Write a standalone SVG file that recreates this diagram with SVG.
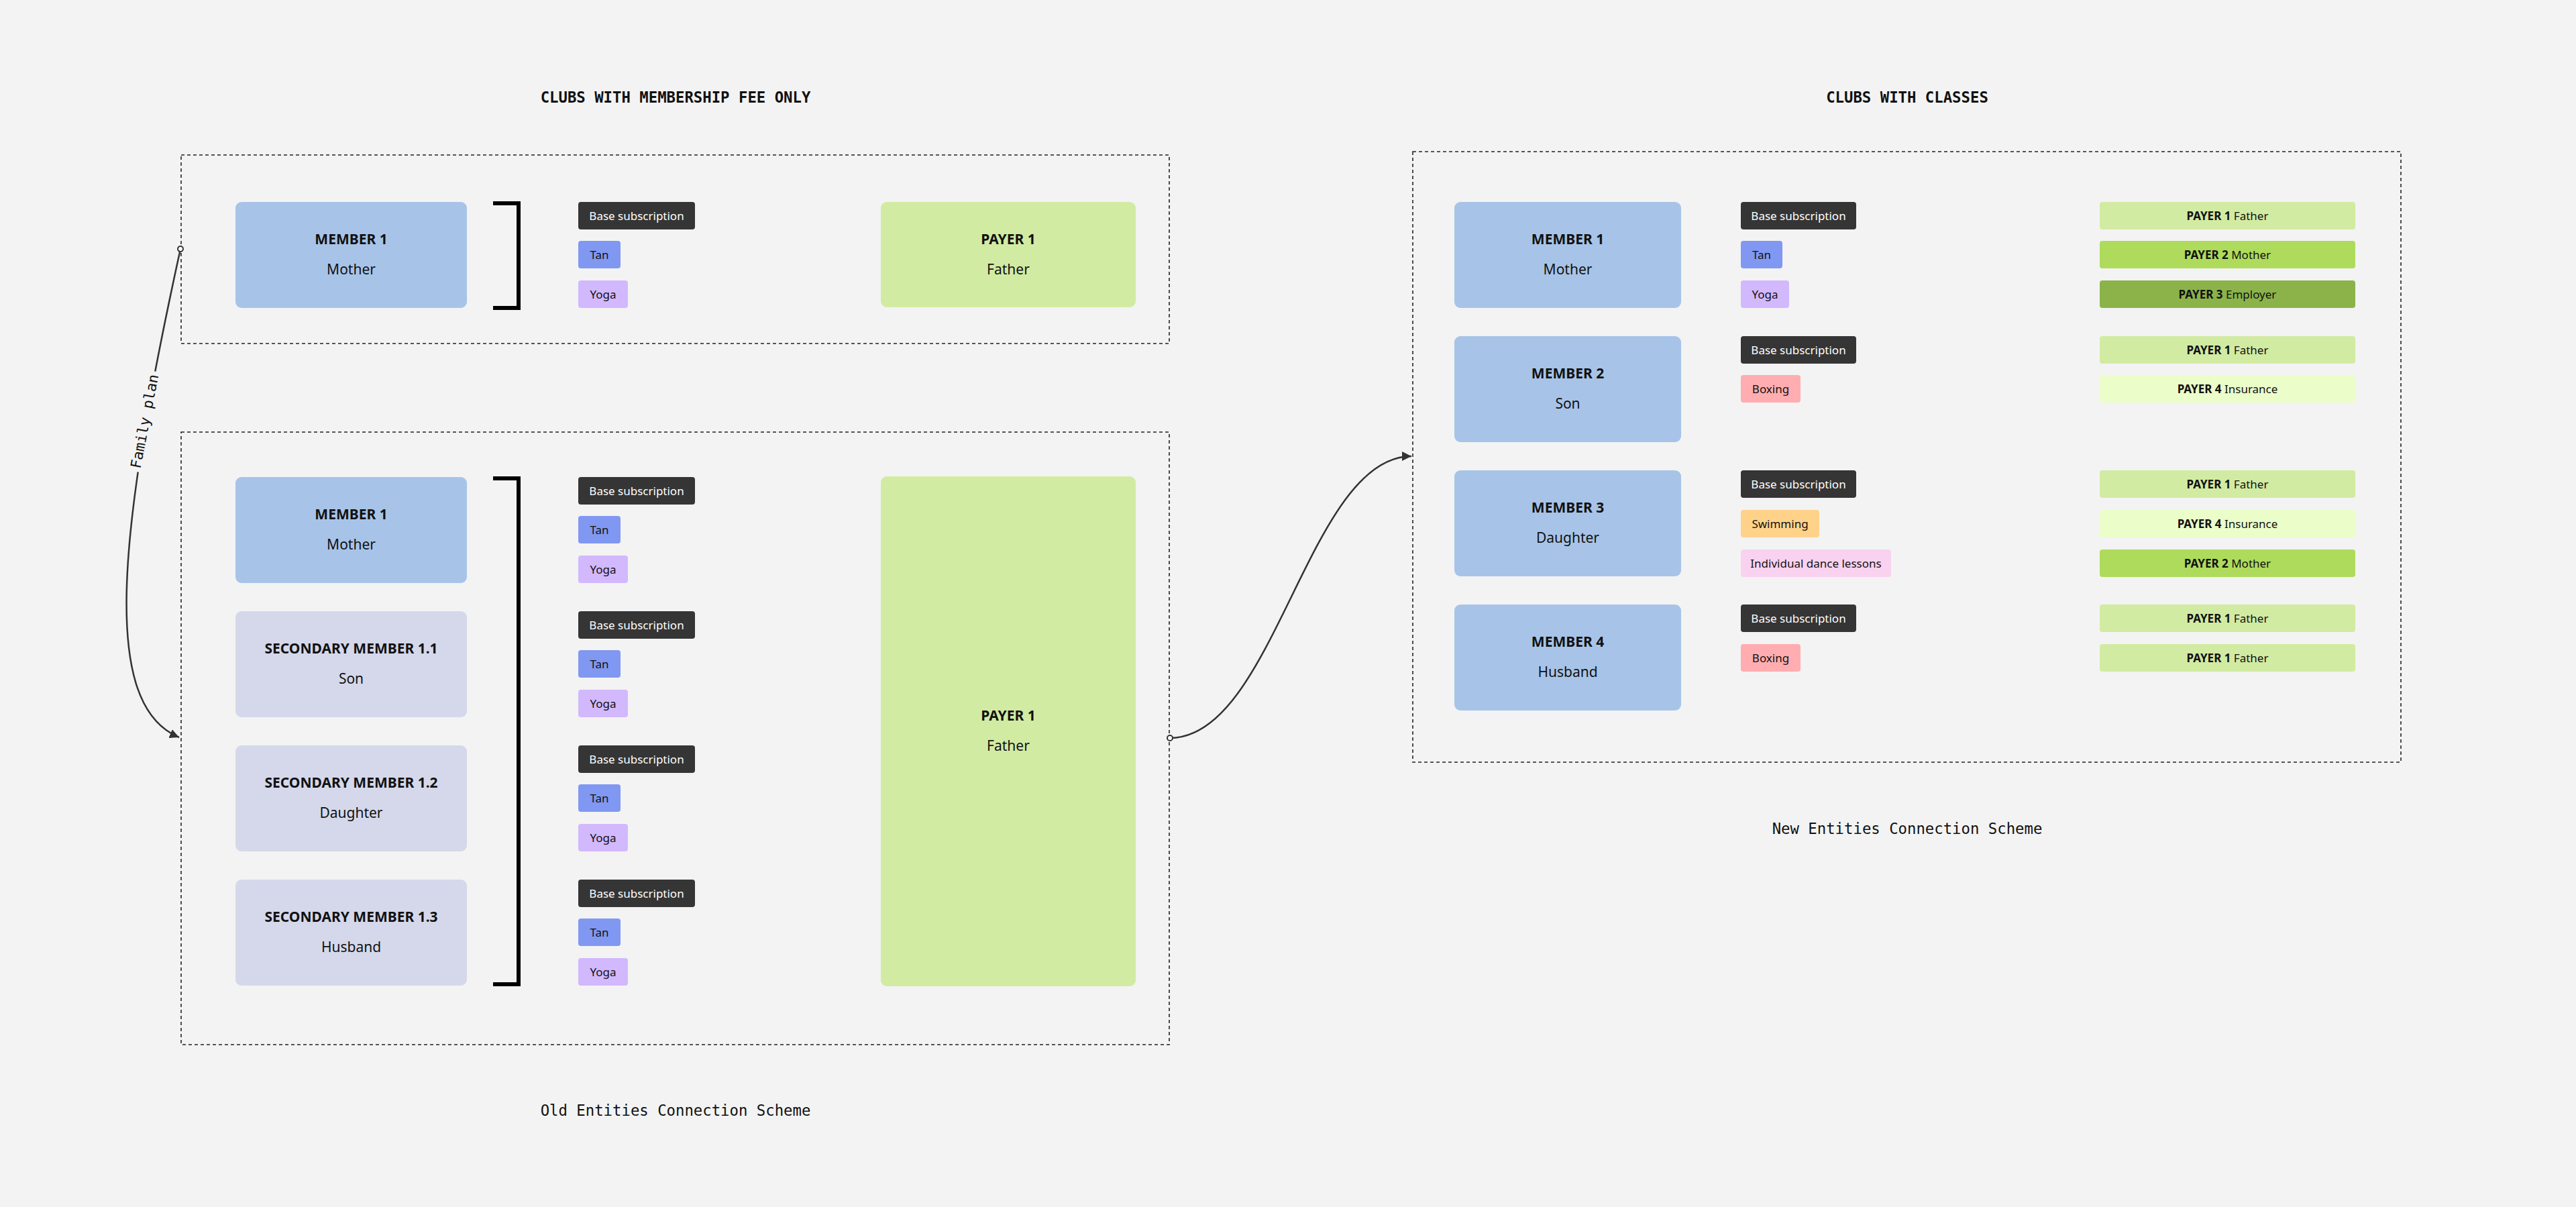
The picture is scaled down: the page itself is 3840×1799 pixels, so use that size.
<svg xmlns="http://www.w3.org/2000/svg" width="3840" height="1799" viewBox="0 0 3840 1799">
<defs>
<style>
.bg{fill:#f3f3f3}
.frame{fill:none;stroke:#222;stroke-width:1.6;stroke-dasharray:5 4}
.mem{fill:#a7c4e8}
.sec{fill:#d5d8eb}
.pay1{fill:#d2eba2}
.pay2{fill:#aedb5b}
.pay3{fill:#8bb34a}
.pay4{fill:#ebfdc9}
.base{fill:#353535}
.tan{fill:#8098f1}
.yoga{fill:#d2b8fd}
.boxing{fill:#ffadb0}
.swim{fill:#ffd28a}
.dance{fill:#f9d2ef}
.tb{font-family:"Noto Sans","DejaVu Sans",sans-serif;font-size:21px;font-weight:bold;fill:#111;text-anchor:middle}
.tr{font-family:"Noto Sans","DejaVu Sans",sans-serif;font-size:21px;fill:#111;text-anchor:middle}
.ct{font-family:"Noto Sans","DejaVu Sans",sans-serif;font-size:17px;fill:#111;text-anchor:middle}
.cw{fill:#fff}
.b{font-weight:bold}
.mono{font-family:"DejaVu Sans Mono","Liberation Mono",monospace;font-size:22.3px;fill:#111;text-anchor:middle}
.monob{font-weight:bold}
.brk{fill:none;stroke:#000;stroke-width:6;stroke-linejoin:miter}
.conn{fill:none;stroke:#333;stroke-width:2.5}
</style>
<marker id="arrow" markerUnits="userSpaceOnUse" markerWidth="16" markerHeight="16" refX="14" refY="7" orient="auto">
<path d="M0,0 L14,7 L0,14 z" fill="#333"/>
</marker>
<marker id="dot" markerUnits="userSpaceOnUse" markerWidth="12" markerHeight="12" refX="6" refY="6" orient="auto">
<circle cx="6" cy="6" r="4" fill="#fff" stroke="#333" stroke-width="2"/>
</marker>
</defs>
<rect class="bg" x="0" y="0" width="3840" height="1799"/>

<!-- Titles -->
<text class="mono monob" x="1007" y="153">CLUBS WITH MEMBERSHIP FEE ONLY</text>
<text class="mono monob" x="2843" y="153">CLUBS WITH CLASSES</text>
<text class="mono" x="1007" y="1663">Old Entities Connection Scheme</text>
<text class="mono" x="2843" y="1243">New Entities Connection Scheme</text>

<!-- Frames -->
<g id="frame-old-top"><rect class="frame" x="270" y="231" width="1473" height="281"/></g>
<g id="frame-old-bottom"><rect class="frame" x="270" y="644" width="1473" height="913"/></g>
<g id="frame-new"><rect class="frame" x="2106" y="226" width="1473" height="910"/></g>

<!-- Old: top group -->
<g id="old-member1">
<rect class="mem" x="351" y="301" width="345" height="158" rx="9"/>
<text class="tb" x="523.5" y="364">MEMBER 1</text>
<text class="tr" x="523.5" y="409">Mother</text>
</g>
<g id="old-bracket1"><path class="brk" d="M735,303 H773 V459 H735"/></g>
<g id="old-m1-base"><rect class="base" x="862" y="301" width="174" height="41" rx="4"/><text class="ct cw" x="949" y="328">Base subscription</text></g>
<g id="old-m1-tan"><rect class="tan" x="862" y="359" width="63" height="41" rx="4"/><text class="ct" x="893.5" y="386">Tan</text></g>
<g id="old-m1-yoga"><rect class="yoga" x="862" y="418" width="74" height="41" rx="4"/><text class="ct" x="899" y="445">Yoga</text></g>
<g id="old-payer1">
<rect class="pay1" x="1313" y="301" width="380" height="157" rx="9"/>
<text class="tb" x="1503" y="364">PAYER 1</text>
<text class="tr" x="1503" y="409">Father</text>
</g>

<!-- Old: bottom group -->
<g id="old-fam-member1">
<rect class="mem" x="351" y="711" width="345" height="158" rx="9"/>
<text class="tb" x="523.5" y="774">MEMBER 1</text>
<text class="tr" x="523.5" y="819">Mother</text>
</g>
<g id="old-sec11">
<rect class="sec" x="351" y="911" width="345" height="158" rx="9"/>
<text class="tb" x="523.5" y="974">SECONDARY MEMBER 1.1</text>
<text class="tr" x="523.5" y="1019">Son</text>
</g>
<g id="old-sec12">
<rect class="sec" x="351" y="1111" width="345" height="158" rx="9"/>
<text class="tb" x="523.5" y="1174">SECONDARY MEMBER 1.2</text>
<text class="tr" x="523.5" y="1219">Daughter</text>
</g>
<g id="old-sec13">
<rect class="sec" x="351" y="1311" width="345" height="158" rx="9"/>
<text class="tb" x="523.5" y="1374">SECONDARY MEMBER 1.3</text>
<text class="tr" x="523.5" y="1419">Husband</text>
</g>
<g id="old-bracket2"><path class="brk" d="M735,713 H773 V1467 H735"/></g>

<g id="old-f1-base"><rect class="base" x="862" y="711" width="174" height="41" rx="4"/><text class="ct cw" x="949" y="738">Base subscription</text></g>
<g id="old-f1-tan"><rect class="tan" x="862" y="769" width="63" height="41" rx="4"/><text class="ct" x="893.5" y="796">Tan</text></g>
<g id="old-f1-yoga"><rect class="yoga" x="862" y="828" width="74" height="41" rx="4"/><text class="ct" x="899" y="855">Yoga</text></g>

<g id="old-f2-base"><rect class="base" x="862" y="911" width="174" height="41" rx="4"/><text class="ct cw" x="949" y="938">Base subscription</text></g>
<g id="old-f2-tan"><rect class="tan" x="862" y="969" width="63" height="41" rx="4"/><text class="ct" x="893.5" y="996">Tan</text></g>
<g id="old-f2-yoga"><rect class="yoga" x="862" y="1028" width="74" height="41" rx="4"/><text class="ct" x="899" y="1055">Yoga</text></g>

<g id="old-f3-base"><rect class="base" x="862" y="1111" width="174" height="41" rx="4"/><text class="ct cw" x="949" y="1138">Base subscription</text></g>
<g id="old-f3-tan"><rect class="tan" x="862" y="1169" width="63" height="41" rx="4"/><text class="ct" x="893.5" y="1196">Tan</text></g>
<g id="old-f3-yoga"><rect class="yoga" x="862" y="1228" width="74" height="41" rx="4"/><text class="ct" x="899" y="1255">Yoga</text></g>

<g id="old-f4-base"><rect class="base" x="862" y="1311" width="174" height="41" rx="4"/><text class="ct cw" x="949" y="1338">Base subscription</text></g>
<g id="old-f4-tan"><rect class="tan" x="862" y="1369" width="63" height="41" rx="4"/><text class="ct" x="893.5" y="1396">Tan</text></g>
<g id="old-f4-yoga"><rect class="yoga" x="862" y="1428" width="74" height="41" rx="4"/><text class="ct" x="899" y="1455">Yoga</text></g>

<g id="old-fam-payer1">
<rect class="pay1" x="1313" y="710" width="380" height="760" rx="9"/>
<text class="tb" x="1503" y="1074">PAYER 1</text>
<text class="tr" x="1503" y="1119">Father</text>
</g>

<!-- New scheme -->
<g id="new-member1">
<rect class="mem" x="2168" y="301" width="338" height="158" rx="9"/>
<text class="tb" x="2337" y="364">MEMBER 1</text>
<text class="tr" x="2337" y="409">Mother</text>
</g>
<g id="new-member2">
<rect class="mem" x="2168" y="501" width="338" height="158" rx="9"/>
<text class="tb" x="2337" y="564">MEMBER 2</text>
<text class="tr" x="2337" y="609">Son</text>
</g>
<g id="new-member3">
<rect class="mem" x="2168" y="701" width="338" height="158" rx="9"/>
<text class="tb" x="2337" y="764">MEMBER 3</text>
<text class="tr" x="2337" y="809">Daughter</text>
</g>
<g id="new-member4">
<rect class="mem" x="2168" y="901" width="338" height="158" rx="9"/>
<text class="tb" x="2337" y="964">MEMBER 4</text>
<text class="tr" x="2337" y="1009">Husband</text>
</g>

<g id="new-m1-base"><rect class="base" x="2595" y="301" width="172" height="41" rx="4"/><text class="ct cw" x="2681" y="328">Base subscription</text></g>
<g id="new-m1-tan"><rect class="tan" x="2595" y="359" width="62" height="41" rx="4"/><text class="ct" x="2626" y="386">Tan</text></g>
<g id="new-m1-yoga"><rect class="yoga" x="2595" y="418" width="72" height="41" rx="4"/><text class="ct" x="2631" y="445">Yoga</text></g>

<g id="new-m2-base"><rect class="base" x="2595" y="501" width="172" height="41" rx="4"/><text class="ct cw" x="2681" y="528">Base subscription</text></g>
<g id="new-m2-boxing"><rect class="boxing" x="2595" y="559" width="89" height="41" rx="4"/><text class="ct" x="2639.5" y="586">Boxing</text></g>

<g id="new-m3-base"><rect class="base" x="2595" y="701" width="172" height="41" rx="4"/><text class="ct cw" x="2681" y="728">Base subscription</text></g>
<g id="new-m3-swim"><rect class="swim" x="2595" y="760" width="117" height="41" rx="4"/><text class="ct" x="2653.5" y="787">Swimming</text></g>
<g id="new-m3-dance"><rect class="dance" x="2595" y="819" width="224" height="41" rx="4"/><text class="ct" x="2707" y="846">Individual dance lessons</text></g>

<g id="new-m4-base"><rect class="base" x="2595" y="901" width="172" height="41" rx="4"/><text class="ct cw" x="2681" y="928">Base subscription</text></g>
<g id="new-m4-boxing"><rect class="boxing" x="2595" y="960" width="89" height="41" rx="4"/><text class="ct" x="2639.5" y="987">Boxing</text></g>

<g id="new-m1-payer1"><rect class="pay1" x="3130" y="301" width="381" height="41" rx="4"/><text class="ct" x="3320.5" y="328"><tspan class="b">PAYER 1</tspan> Father</text></g>
<g id="new-m1-payer2"><rect class="pay2" x="3130" y="359" width="381" height="41" rx="4"/><text class="ct" x="3320.5" y="386"><tspan class="b">PAYER 2</tspan> Mother</text></g>
<g id="new-m1-payer3"><rect class="pay3" x="3130" y="418" width="381" height="41" rx="4"/><text class="ct" x="3320.5" y="445"><tspan class="b">PAYER 3</tspan> Employer</text></g>

<g id="new-m2-payer1"><rect class="pay1" x="3130" y="501" width="381" height="41" rx="4"/><text class="ct" x="3320.5" y="528"><tspan class="b">PAYER 1</tspan> Father</text></g>
<g id="new-m2-payer4"><rect class="pay4" x="3130" y="559" width="381" height="41" rx="4"/><text class="ct" x="3320.5" y="586"><tspan class="b">PAYER 4</tspan> Insurance</text></g>

<g id="new-m3-payer1"><rect class="pay1" x="3130" y="701" width="381" height="41" rx="4"/><text class="ct" x="3320.5" y="728"><tspan class="b">PAYER 1</tspan> Father</text></g>
<g id="new-m3-payer4"><rect class="pay4" x="3130" y="760" width="381" height="41" rx="4"/><text class="ct" x="3320.5" y="787"><tspan class="b">PAYER 4</tspan> Insurance</text></g>
<g id="new-m3-payer2"><rect class="pay2" x="3130" y="819" width="381" height="41" rx="4"/><text class="ct" x="3320.5" y="846"><tspan class="b">PAYER 2</tspan> Mother</text></g>

<g id="new-m4-payer1a"><rect class="pay1" x="3130" y="901" width="381" height="41" rx="4"/><text class="ct" x="3320.5" y="928"><tspan class="b">PAYER 1</tspan> Father</text></g>
<g id="new-m4-payer1b"><rect class="pay1" x="3130" y="960" width="381" height="41" rx="4"/><text class="ct" x="3320.5" y="987"><tspan class="b">PAYER 1</tspan> Father</text></g>

<!-- Connectors -->
<g id="connectors">
<path class="conn" d="M269,371 C175,800 150,1050 267,1099" marker-start="url(#dot)" marker-end="url(#arrow)"/>
<g transform="translate(216,628) rotate(-79)">
<rect class="bg" x="-76" y="-14" width="152" height="26"/>
<text class="mono" x="0" y="7" style="font-size:21.5px">Family plan</text>
</g>
<path class="conn" d="M1744,1100 C1900,1100 1950,680 2104,680" marker-start="url(#dot)" marker-end="url(#arrow)"/>
</g>
</svg>
